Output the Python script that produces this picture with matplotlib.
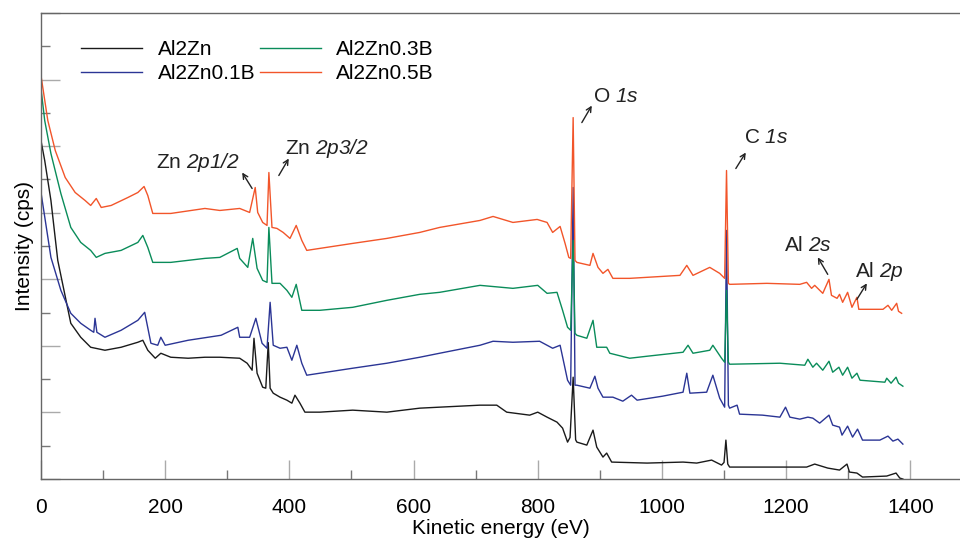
import matplotlib
matplotlib.use("Agg")
import matplotlib.pyplot as plt
from matplotlib.ticker import MultipleLocator

plt.rcParams['font.family'] = ['Liberation Sans', 'DejaVu Sans']
# mathtext only used for the italic orbital names
plt.rcParams['mathtext.fontset'] = 'custom'
plt.rcParams['mathtext.rm'] = 'Liberation Sans:italic'
plt.rcParams['mathtext.it'] = 'Liberation Sans:italic'

# Survey spectra (energy in eV, intensity in arb. cps)
e_al2zn = [0, 6, 16, 27, 48, 64, 80, 103, 129, 156, 164, 172, 184, 193, 209, 237, 264, 288, 320,
           332, 340, 343, 348, 357, 362, 366, 369, 374, 385, 396, 404, 409, 417, 425, 449, 502, 557,
           610, 642, 707, 734, 750, 787, 800, 815, 831, 840, 848, 852, 857, 861, 863, 879, 889, 895,
           905, 911, 919, 976, 1034, 1056, 1080, 1096, 1100, 1103, 1106, 1109, 1190, 1233, 1246,
           1267, 1286, 1298, 1302, 1314, 1323, 1362, 1377, 1383, 1388]
i_al2zn = [1017, 957, 837, 657, 468, 426, 396, 387, 396, 411, 417, 387, 363, 378, 366, 363, 366, 366, 363,
           348, 327, 423, 318, 276, 273, 410, 273, 258, 246, 237, 228, 252, 228, 201, 201, 207, 201,
           213, 216, 222, 222, 201, 192, 201, 186, 171, 153, 111, 125, 306, 118, 111, 102, 147, 96,
           66, 78, 51, 48, 51, 48, 57, 42, 50, 117, 45, 36, 36, 36, 45,
           33, 27, 45, 21, 18, 6, 9, 18, 3, 0]

e_01b = [0, 16, 32, 48, 64, 80, 85, 87, 90, 103, 129, 156, 167, 177, 188, 193, 200, 237, 290, 317,
         320, 336, 346, 356, 364, 369, 374, 385, 396, 404, 412, 420, 428, 449, 502, 557, 610, 642,
         707, 728, 760, 803, 824, 836, 848, 853, 857, 860, 863, 884, 892, 897, 905, 921, 937, 951,
         960, 1001, 1034, 1040, 1045, 1072, 1082, 1093, 1101, 1104, 1107, 1109, 1121, 1125, 1162,
         1190, 1199, 1206, 1222, 1235, 1243, 1254, 1269, 1275, 1286, 1290, 1299, 1307, 1315, 1323,
         1351, 1364, 1372, 1380, 1388]
i_01b = [861, 666, 567, 498, 468, 447, 441, 483, 441, 426, 447, 477, 501, 408, 402, 426, 402, 417, 432, 456,
         426, 426, 483, 408, 393, 531, 402, 393, 396, 357, 402, 348, 312, 318, 333, 348, 366, 378,
         402, 414, 411, 414, 393, 402, 297, 282, 876, 282, 282, 273, 309, 273, 246, 246, 234, 252,
         237, 249, 261, 318, 258, 261, 312, 243, 216, 747, 222, 213, 222, 195, 192,
         186, 216, 186, 180, 186, 183, 168, 192, 162, 156, 132, 159, 126, 150, 117,
         117, 129, 114, 120, 105]

e_03b = [0, 6, 16, 32, 48, 64, 80, 89, 103, 129, 156, 164, 172, 180, 209, 264, 288, 316, 320, 333,
         341, 348, 357, 364, 367, 372, 385, 396, 404, 411, 420, 449, 502, 557, 610, 642, 707, 760,
         800, 815, 831, 840, 848, 853, 857, 860, 863, 879, 889, 895, 911, 916, 948, 976, 1034, 1042,
         1050, 1077, 1082, 1096, 1101, 1104, 1107, 1109, 1190, 1230, 1235, 1243, 1249, 1259, 1269,
         1275, 1285, 1291, 1299, 1306, 1314, 1319, 1359, 1362, 1369, 1377, 1381, 1388]
i_03b = [1173, 1077, 978, 858, 756, 711, 687, 666, 678, 687, 711, 732, 696, 651, 651, 663, 666, 693, 663, 636,
         723, 633, 597, 591, 756, 588, 588, 567, 546, 585, 507, 507, 516, 537, 555, 561, 582, 573,
         582, 558, 561, 507, 456, 447, 717, 438, 432, 423, 477, 396, 396, 378, 363, 369, 381, 402,
         378, 387, 402, 363, 351, 567, 351, 345, 348, 342, 360, 336, 348, 327, 354,
         321, 336, 312, 336, 303, 318, 297, 291, 303, 288, 306, 288, 279]

e_05b = [0, 11, 23, 39, 55, 71, 80, 89, 97, 113, 140, 156, 166, 172, 180, 209, 264, 288, 320, 336,
         345, 349, 357, 364, 367, 372, 380, 390, 401, 411, 420, 428, 449, 502, 557, 610, 642, 707,
         728, 760, 799, 815, 824, 836, 844, 850, 853, 857, 860, 863, 884, 889, 897, 905, 913, 921,
         948, 1029, 1040, 1050, 1077, 1093, 1101, 1104, 1107, 1109, 1169, 1222, 1233, 1241, 1246,
         1259, 1269, 1273, 1282, 1286, 1291, 1299, 1306, 1314, 1317, 1356, 1364, 1370, 1378, 1381, 1386]
i_05b = [1212, 1077, 987, 906, 861, 837, 822, 843, 816, 822, 846, 861, 879, 852, 798, 798, 813, 807, 813, 801,
         876, 801, 771, 762, 921, 756, 753, 741, 723, 762, 717, 687, 693, 708, 723, 741, 756, 777,
         789, 771, 780, 771, 741, 759, 708, 666, 663, 1086, 657, 651, 642, 678, 636, 618, 630, 603,
         603, 612, 642, 612, 636, 618, 603, 927, 588, 585, 588, 585, 591, 573, 582,
         558, 600, 552, 543, 555, 531, 561, 516, 546, 510, 510, 522, 507, 528, 504, 498]

labels = ['Al2Zn', 'Al2Zn0.1B', 'Al2Zn0.3B', 'Al2Zn0.5B']
colors = ['#1a1a1a', '#2b3595', '#0a8c5a', '#f2552a']

# peak labels: text, text position, arrow tail, arrow head
peak_names = ['Zn $\\mathrm{2p1/2}$', 'Zn $\\mathrm{2p3/2}$', 'O $\\mathrm{1s}$',
              'C $\\mathrm{1s}$', 'Al $\\mathrm{2s}$', 'Al $\\mathrm{2p}$']
peak_text_xy = [(185, 951), (393, 993), (889, 1149), (1132, 1026), (1196, 702), (1311, 624)]
arrow_tail = [(340, 873), (383, 912), (871, 1071), (1119, 933), (1267, 615), (1314, 540)]
arrow_head = [(324, 921), (399, 963), (887, 1122), (1135, 981), (1251, 666), (1330, 588)]

fig = plt.figure(figsize=(9.6, 5.45), dpi=100)
ax = fig.add_axes([0.0427, 0.121, 0.9573, 0.855])

series = [(e_al2zn, i_al2zn), (e_01b, i_01b), (e_03b, i_03b), (e_05b, i_05b)]
for (e, i), lab, c in zip(series, labels, colors):
    ax.plot(e, i, color=c, lw=1.0, label=lab)

for name, txy, tail, head in zip(peak_names, peak_text_xy, arrow_tail, arrow_head):
    ax.text(txy[0], txy[1], name, fontsize=15, ha='left', va='center', color='#222222')
    ax.annotate('', xy=head, xytext=tail,
                arrowprops=dict(arrowstyle='->', lw=1.0, color='#222222',
                                shrinkA=0, shrinkB=0, mutation_scale=9))

ax.set_xlim(0, 1480)
ax.set_ylim(0, 1400)
ax.xaxis.set_major_locator(MultipleLocator(200))
ax.xaxis.set_minor_locator(MultipleLocator(100))
ax.yaxis.set_major_locator(MultipleLocator(200))
ax.yaxis.set_minor_locator(MultipleLocator(100))
ax.tick_params(which='major', direction='in', length=14, width=1, color='#aaaaaa',
               labelsize=15, pad=14, top=False, right=False)
ax.tick_params(which='minor', direction='in', length=6.5, width=1, color='#777777',
               top=False, right=False)
ax.tick_params(axis='y', which='both', labelleft=False)

for side in ['left', 'top', 'bottom']:
    ax.spines[side].set_color('#666666')
    ax.spines[side].set_linewidth(1)
ax.spines['right'].set_visible(False)

ax.set_xlabel('Kinetic energy (eV)', fontsize=15, labelpad=1)
ax.set_ylabel('Intensity (cps)', fontsize=15, labelpad=5)

ax.legend(loc='upper left', bbox_to_anchor=(0.035, 0.96), ncol=2, frameon=False,
          fontsize=15, handlelength=2.9, handletextpad=0.75, columnspacing=0.25,
          labelspacing=0.25, borderaxespad=0)

fig.savefig('out.png', dpi=100)
